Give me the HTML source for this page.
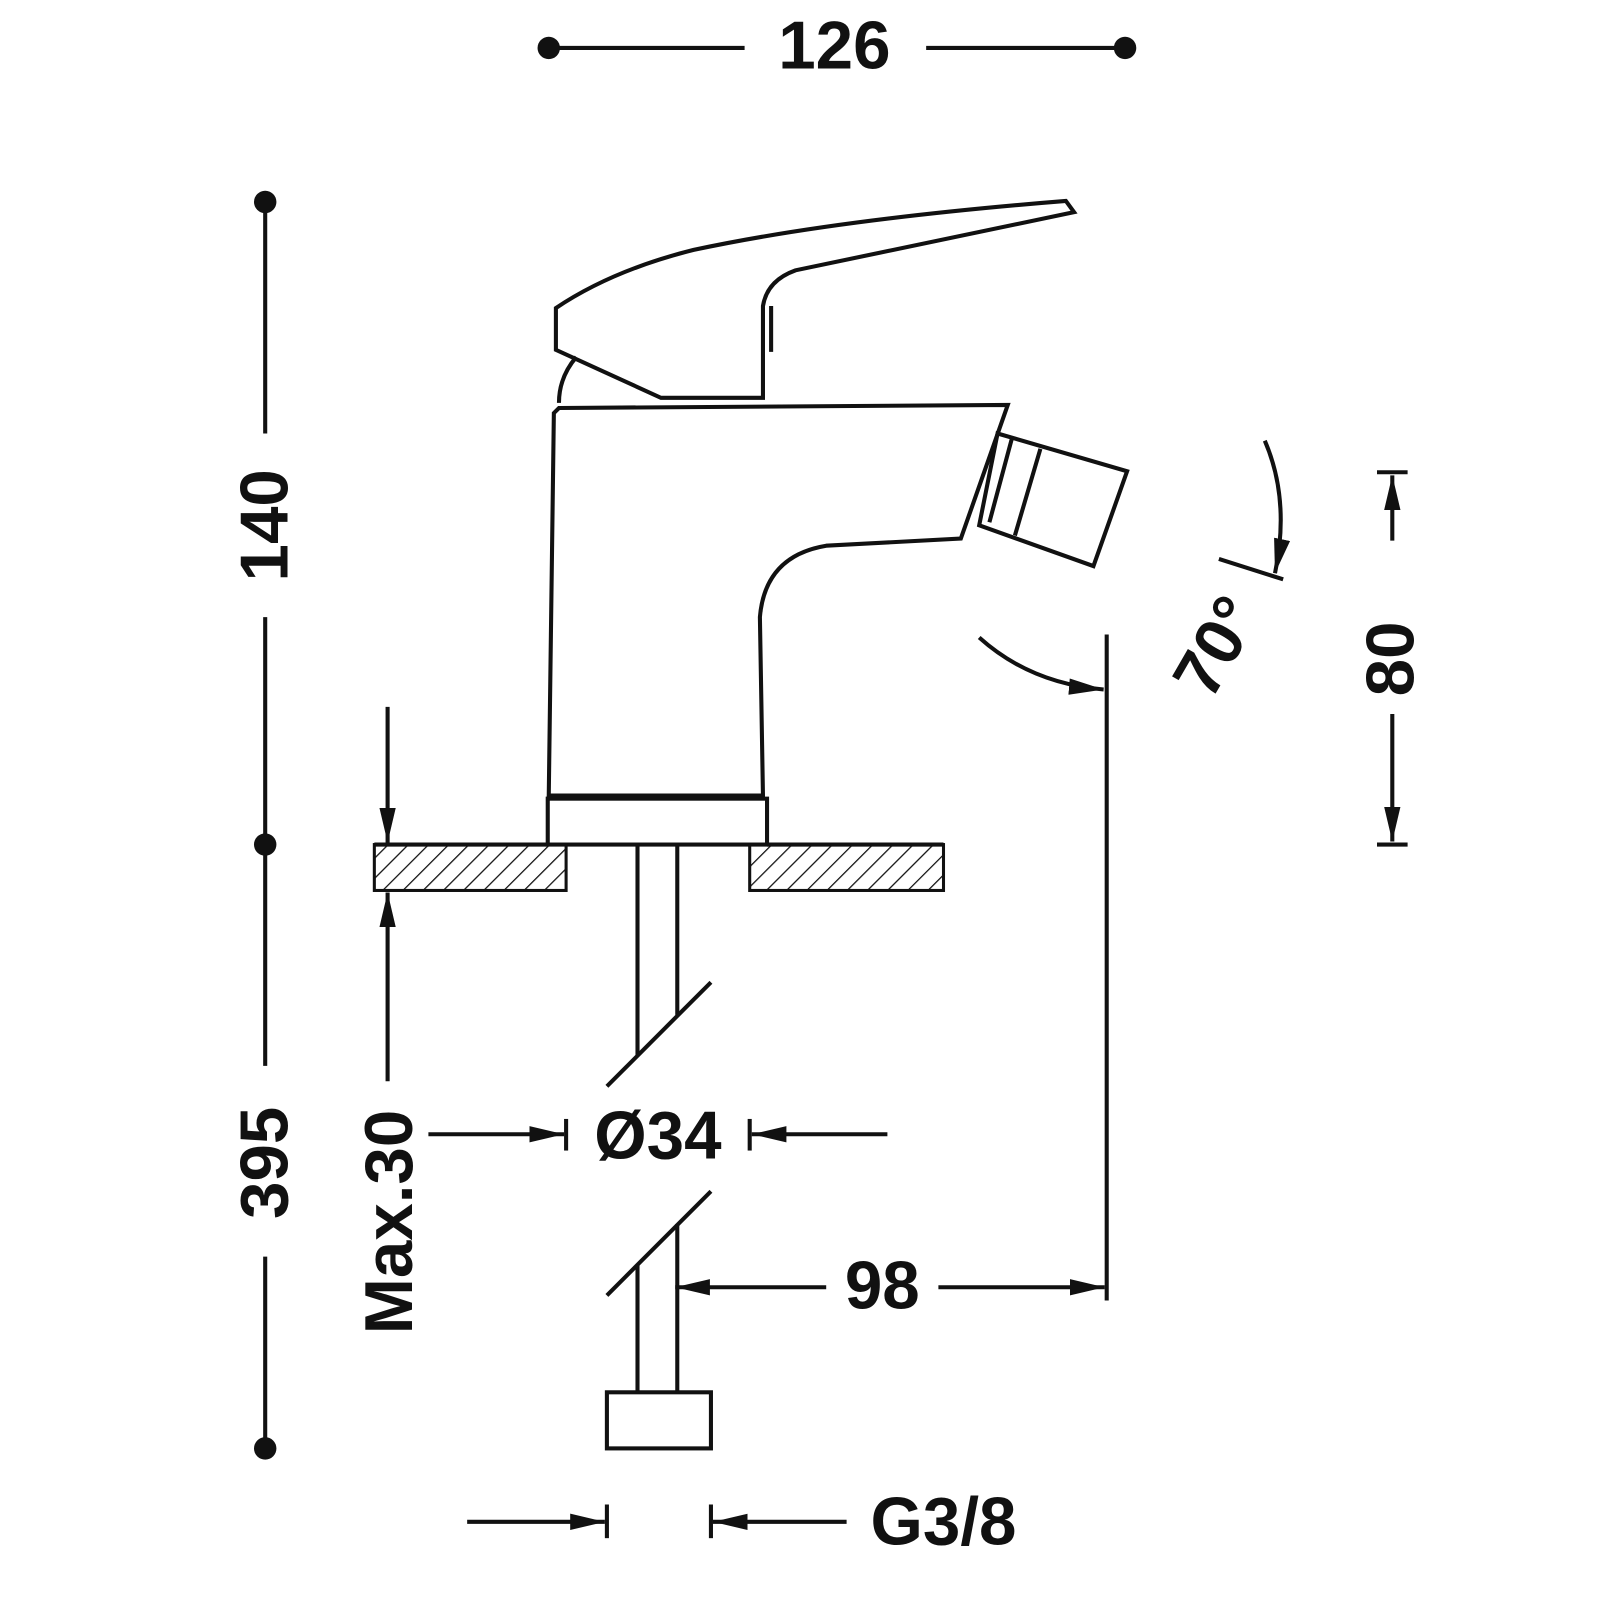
<!DOCTYPE html>
<html><head><meta charset="utf-8"><style>html,body{margin:0;padding:0;background:#fff}svg{display:block}text{font-family:"Liberation Sans",sans-serif;font-weight:bold;fill:#111}</style></head>
<body>
<svg width="1600" height="1600" viewBox="0 0 1600 1600" xmlns="http://www.w3.org/2000/svg">
<defs>
<pattern id="h" width="14" height="14" patternUnits="userSpaceOnUse" patternTransform="rotate(45)"><line x1="0" y1="0" x2="0" y2="14" stroke="#111" stroke-width="2.5"/></pattern>
<marker id="a" markerWidth="34" markerHeight="16" refX="34" refY="8" orient="auto" markerUnits="userSpaceOnUse" viewBox="0 0 34 16"><path d="M0,0 L34,8 L0,16 Z" fill="#111"/></marker>
</defs>
<g transform="scale(1.02)">
<g stroke="#111" stroke-width="4" fill="none">
<line x1="538" y1="47" x2="730" y2="47"/><line x1="908" y1="47" x2="1103" y2="47"/>
<line x1="260" y1="198" x2="260" y2="425"/><line x1="260" y1="605" x2="260" y2="1045"/><line x1="260" y1="1232" x2="260" y2="1420"/>
<path d="M545,302 Q600,265 680,245 Q820,215 1045,197 L1053,208 L780,265 Q752,275 748,300 L748,390 L648,390 L545,343 Z"/>
<line x1="756" y1="300" x2="756" y2="345"/>
<path d="M565,350 Q548,370 548,395"/>
<path d="M548,400 L988,397 L942,528 L810,535 Q750,545 745,605 L748,780 L538,780 L543,405 Z"/>
<rect x="537" y="783" width="215" height="45"/>
<path d="M978,425 L1105,462 L1072,555 L960,515 Z"/>
<line x1="992" y1="430" x2="970" y2="512"/>
<line x1="1020" y1="440" x2="995" y2="525"/>
<rect x="367" y="828" width="188" height="45" fill="url(#h)" stroke-width="3"/>
<rect x="735" y="828" width="190" height="45" fill="url(#h)" stroke-width="3"/>
<line x1="367" y1="828" x2="537" y2="828"/><line x1="752" y1="828" x2="925" y2="828"/>
<line x1="625" y1="828" x2="625" y2="1035"/><line x1="664" y1="828" x2="664" y2="995"/>
<line x1="595" y1="1065" x2="697" y2="963"/>
<line x1="595" y1="1270" x2="697" y2="1168"/>
<line x1="625" y1="1240" x2="625" y2="1365"/><line x1="664" y1="1200" x2="664" y2="1365"/>
<rect x="595" y="1365" width="102" height="55"/>
<line x1="380" y1="693" x2="380" y2="826" marker-end="url(#a)"/>
<line x1="380" y1="1060" x2="380" y2="875" marker-end="url(#a)"/>
<line x1="420" y1="1112" x2="553" y2="1112" marker-end="url(#a)"/>
<line x1="870" y1="1112" x2="737" y2="1112" marker-end="url(#a)"/>
<line x1="555" y1="1097" x2="555" y2="1128"/><line x1="735" y1="1097" x2="735" y2="1128"/>
<line x1="1085" y1="622" x2="1085" y2="1275"/>
<line x1="810" y1="1262" x2="662" y2="1262" marker-end="url(#a)"/>
<line x1="920" y1="1262" x2="1083" y2="1262" marker-end="url(#a)"/>
<line x1="1350" y1="463" x2="1380" y2="463"/><line x1="1350" y1="828" x2="1380" y2="828"/>
<line x1="1365" y1="530" x2="1365" y2="466" marker-end="url(#a)"/>
<line x1="1365" y1="700" x2="1365" y2="825" marker-end="url(#a)"/>
<path d="M960,625 Q1010,670 1082,676" marker-end="url(#a)"/>
<line x1="1195" y1="548" x2="1258" y2="568"/>
<path d="M1240,432 Q1265,490 1250,562" marker-end="url(#a)"/>
<line x1="458" y1="1492" x2="593" y2="1492" marker-end="url(#a)"/>
<line x1="830" y1="1492" x2="699" y2="1492" marker-end="url(#a)"/>
<line x1="595" y1="1475" x2="595" y2="1508"/><line x1="697" y1="1475" x2="697" y2="1508"/>
</g>
<g fill="#111">
<circle cx="538" cy="47" r="11"/><circle cx="1103" cy="47" r="11"/>
<circle cx="260" cy="198" r="11"/><circle cx="260" cy="828" r="11"/><circle cx="260" cy="1420" r="11"/>
</g>
<text x="818" y="67" font-size="66" text-anchor="middle">126</text>
<text x="0" y="0" font-size="66" text-anchor="middle" transform="translate(282,515) rotate(-90)">140</text>
<text x="0" y="0" font-size="66" text-anchor="middle" transform="translate(282,1140) rotate(-90)">395</text>
<text x="0" y="0" font-size="66" text-anchor="middle" transform="translate(404,1198) rotate(-90)">Max.30</text>
<text x="645" y="1136" font-size="66" text-anchor="middle">Ø34</text>
<text x="865" y="1283" font-size="66" text-anchor="middle">98</text>
<text x="0" y="0" font-size="66" text-anchor="middle" transform="translate(1386,646) rotate(-90)">80</text>
<text x="0" y="0" font-size="66" text-anchor="middle" transform="translate(1212,645) rotate(-60)">70°</text>
<text x="925" y="1514" font-size="66" text-anchor="middle">G3/8</text>
</g>
</svg>
</body></html>
